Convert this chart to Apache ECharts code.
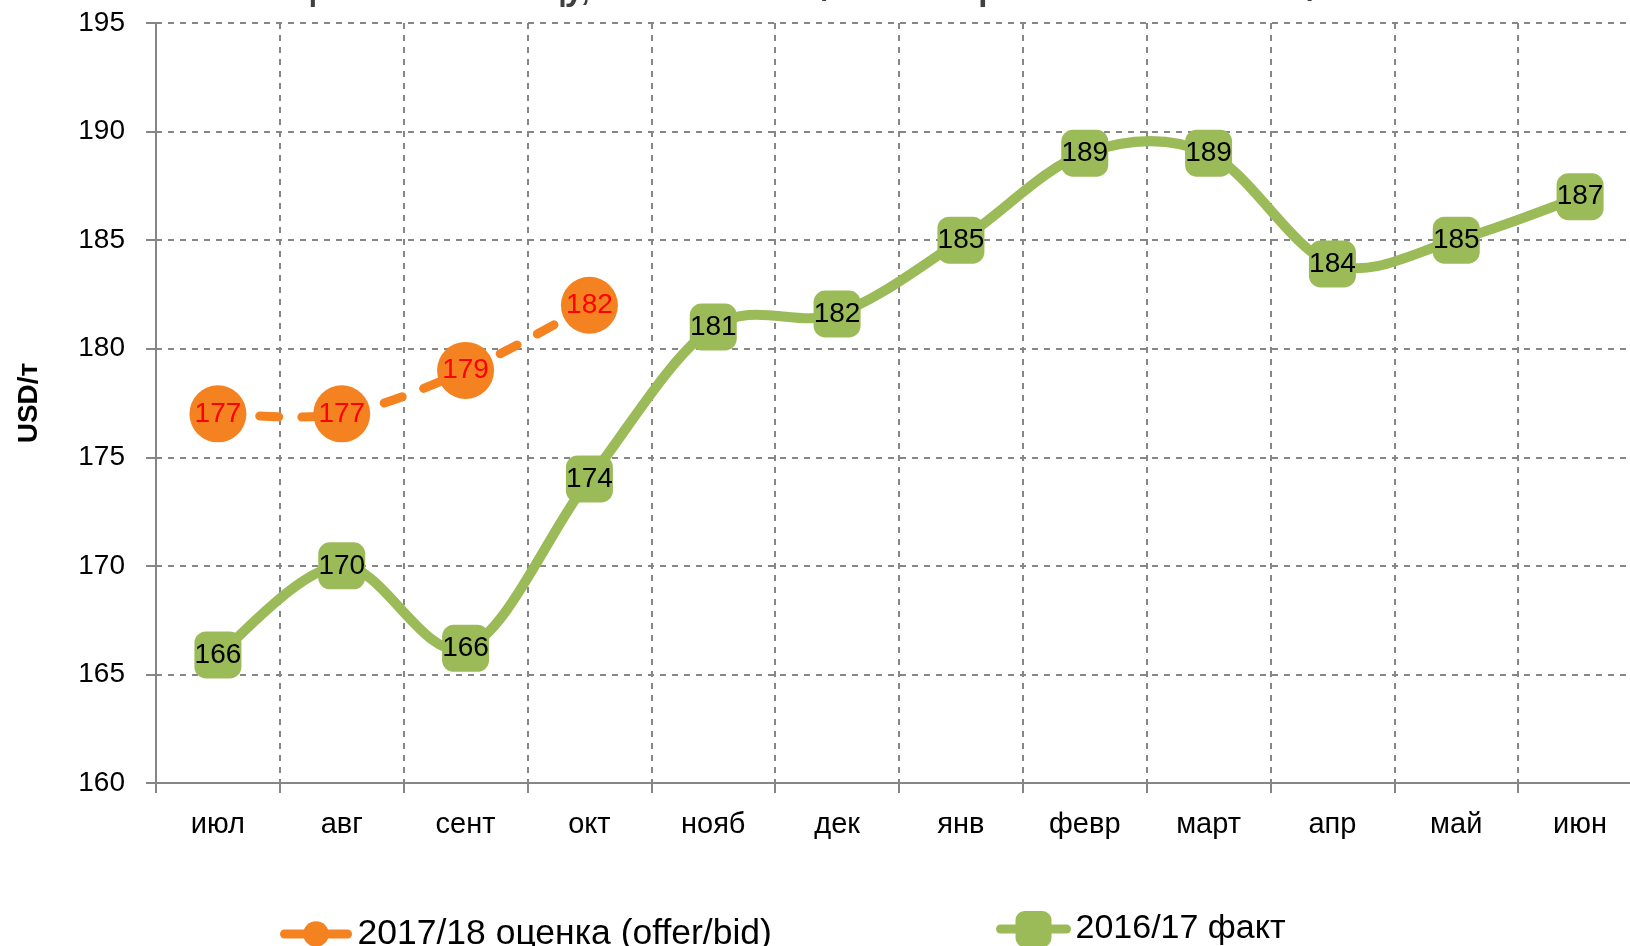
<!DOCTYPE html>
<html>
<head>
<meta charset="utf-8">
<script src="https://cdn.jsdelivr.net/npm/echarts@6/dist/echarts.min.js"></script>
<style>
html,body{margin:0;padding:0;background:#fff;overflow:hidden;}
#chart{width:1644px;height:946px;}
</style>
</head>
<body>
<div id="chart"></div>
<script>
const titleText = 'Цены на пшеницу, в сезоне 2016/17 и котировки на сезон 2017/18';
const yAxisName = 'USD/т';
const categories = ['июл','авг','сент','окт','нояб','дек','янв','февр','март','апр','май','июн'];
const seriesNameEstimate = '2017/18 оценка (offer/bid)';
const seriesNameFact = '2016/17 факт';
const estimateValues = [177, 177, 179, 182, null, null, null, null, null, null, null, null];
const factValues = [165.9, 170, 166.2, 174, 181, 181.6, 185, 189, 189, 183.9, 185, 187];
const yMin = 160, yMax = 195, yStep = 5;

const FONT = 'Liberation Sans, Arial, sans-serif';
const ORANGE = '#F58220';
const GREEN = '#9BBB59';

// Excel-like smoothed curve (Catmull-Rom -> Bezier) built from data via the axes
function smoothRenderer(values, styleObj) {
  return function (params, api) {
    if (params.dataIndex !== 0) return null;
    const pts = [];
    values.forEach(function (v, i) { if (v != null) pts.push(api.coord([i, v])); });
    if (pts.length < 2) return null;
    let d = 'M' + pts[0][0] + ' ' + pts[0][1];
    for (let i = 0; i < pts.length - 1; i++) {
      const p0 = pts[Math.max(0, i - 1)], p1 = pts[i], p2 = pts[i + 1], p3 = pts[Math.min(pts.length - 1, i + 2)];
      const c1x = p1[0] + (p2[0] - p0[0]) / 6, c1y = p1[1] + (p2[1] - p0[1]) / 6;
      const c2x = p2[0] - (p3[0] - p1[0]) / 6, c2y = p2[1] - (p3[1] - p1[1]) / 6;
      d += ' C' + c1x + ' ' + c1y + ' ' + c2x + ' ' + c2y + ' ' + p2[0] + ' ' + p2[1];
    }
    return { type: 'path', shape: { pathData: d }, style: styleObj, silent: true };
  };
}

const chart = echarts.init(document.getElementById('chart'));
chart.setOption({
  backgroundColor: '#ffffff',
  animation: false,
  title: {
    text: titleText,
    left: 'center',
    top: -31,
    textStyle: { fontFamily: FONT, fontSize: 33, fontWeight: 'bold', color: '#404040' }
  },
  legend: [
    {
      data: [{ name: seriesNameEstimate, lineStyle: { type: 'solid', width: 9, cap: 'round', color: ORANGE, opacity: 1 } }],
      left: 275, top: 911,
      itemWidth: 63, itemHeight: 32,
      textStyle: { fontFamily: FONT, fontSize: 35.5, color: '#000', padding: [0, 0, 0, 5] }
    },
    {
      data: [{ name: seriesNameFact, lineStyle: { type: 'solid', width: 9, cap: 'round', color: GREEN, opacity: 1 } }],
      left: 991, top: 906,
      itemWidth: 66, itemHeight: 45,
      textStyle: { fontFamily: FONT, fontSize: 34, color: '#000', padding: [0, 0, 0, 4] }
    }
  ],
  grid: { left: 156, right: 2, top: 23, bottom: 163, containLabel: false },
  xAxis: {
    type: 'category',
    data: categories,
    boundaryGap: true,
    axisLine: { lineStyle: { color: '#868686', width: 2 } },
    axisTick: { show: true, length: 10, lineStyle: { color: '#868686', width: 2 } },
    axisLabel: { fontFamily: FONT, fontSize: 29, color: '#000', margin: 27 },
    splitLine: { show: true, lineStyle: { color: '#868686', width: 2, type: [6, 6] } }
  },
  yAxis: {
    type: 'value',
    min: yMin, max: yMax, interval: yStep,
    name: yAxisName,
    nameLocation: 'middle',
    nameGap: 113,
    nameTextStyle: { fontFamily: FONT, fontSize: 28, fontWeight: 'bold', color: '#000' },
    axisLine: { show: true, lineStyle: { color: '#868686', width: 2 } },
    axisTick: { show: true, length: 10, lineStyle: { color: '#868686', width: 2 } },
    axisLabel: { fontFamily: FONT, fontSize: 28, color: '#000', margin: 31 },
    splitLine: { show: true, lineStyle: { color: '#868686', width: 2, type: [6, 6] } }
  },
  series: [
    {
      name: 'curve-fact',
      type: 'custom',
      data: factValues.map(function (v, i) { return [i, v]; }),
      encode: { x: 0, y: 1 },
      z: 1,
      renderItem: smoothRenderer(factValues, { fill: null, stroke: GREEN, lineWidth: 10, lineCap: 'round', lineJoin: 'round' })
    },
    {
      name: 'curve-estimate',
      type: 'custom',
      data: estimateValues.map(function (v, i) { return [i, v]; }).filter(function (d) { return d[1] != null; }),
      encode: { x: 0, y: 1 },
      z: 1,
      renderItem: smoothRenderer(estimateValues, { fill: null, stroke: ORANGE, lineWidth: 9, lineCap: 'round', lineDash: [19, 23] })
    },
    {
      name: seriesNameEstimate,
      type: 'line',
      data: estimateValues,
      symbol: 'circle',
      symbolSize: 57,
      z: 4,
      lineStyle: { width: 0, opacity: 0, color: ORANGE },
      itemStyle: { color: ORANGE },
      label: {
        show: true, position: 'inside',
        fontFamily: FONT, fontSize: 28, color: '#FF0000',
        formatter: function (p) { return Math.round(p.value); }
      }
    },
    {
      name: seriesNameFact,
      type: 'line',
      data: factValues,
      symbol: 'roundRect',
      symbolSize: 47,
      z: 3,
      lineStyle: { width: 0, opacity: 0, color: GREEN },
      itemStyle: { color: GREEN },
      label: {
        show: true, position: 'inside',
        fontFamily: FONT, fontSize: 28, color: '#000',
        formatter: function (p) { return Math.round(p.value); }
      }
    }
  ]
});
</script>
</body>
</html>
